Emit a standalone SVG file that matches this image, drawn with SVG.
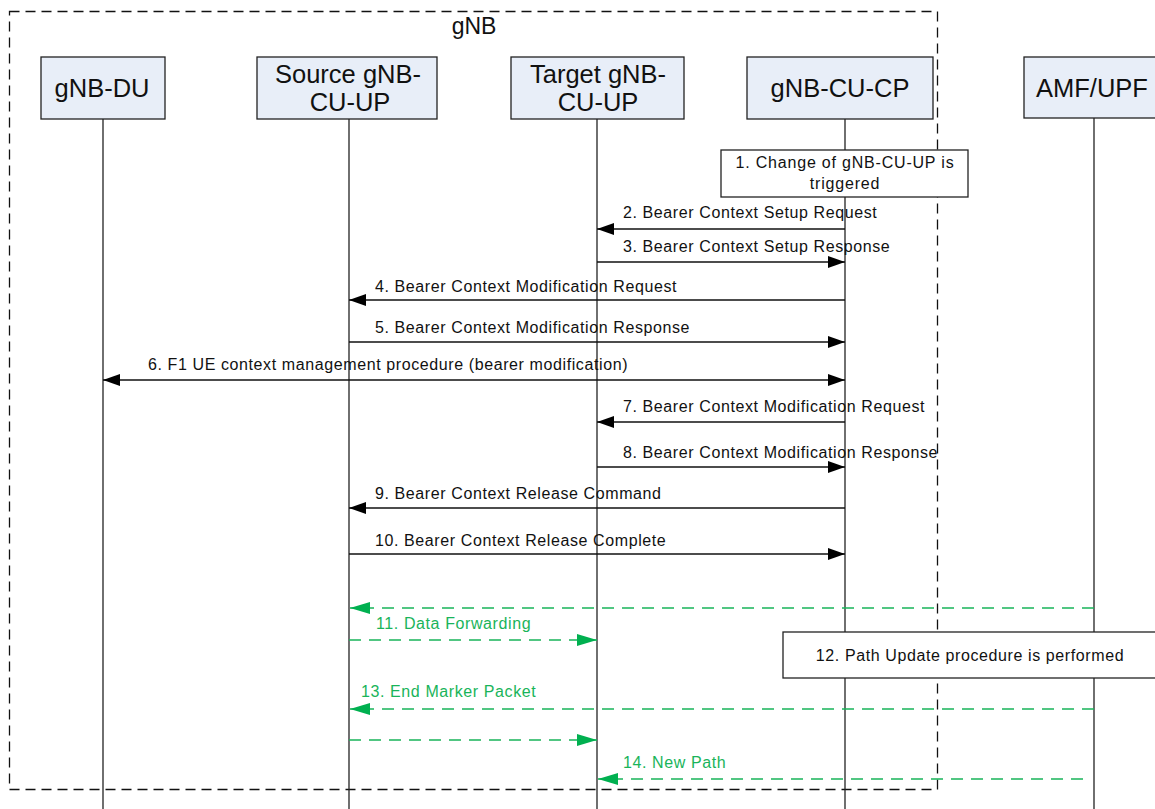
<svg xmlns="http://www.w3.org/2000/svg" width="1155" height="809" viewBox="0 0 1155 809">
<style>
.box{fill:#E8EEF8;stroke:#222;stroke-width:1.3}
.note{fill:#fff;stroke:#222;stroke-width:1.3}
.life{stroke:#222;stroke-width:1.3;fill:none}
.lbl{font-family:"Liberation Sans",Arial,sans-serif;font-size:25.5px;fill:#111;text-anchor:middle}
.msg{font-family:"Liberation Sans",Arial,sans-serif;font-size:16px;fill:#111;letter-spacing:0.6px}
.gmsg{font-family:"Liberation Sans",Arial,sans-serif;font-size:16px;fill:#19B45A;letter-spacing:0.6px}
.ntxt{font-family:"Liberation Sans",Arial,sans-serif;font-size:16px;fill:#111;text-anchor:middle;letter-spacing:0.8px}
.m{stroke:#111;stroke-width:1.3;fill:none}
.g{stroke:#19B45A;stroke-width:1.6;fill:none;stroke-dasharray:12 8}
</style>
<defs>
<marker id="ah" markerUnits="userSpaceOnUse" markerWidth="18" markerHeight="14" refX="17" refY="7" orient="auto-start-reverse"><path d="M0,1 L17,7 L0,13 Z" fill="#000"/></marker>
<marker id="gh" markerUnits="userSpaceOnUse" markerWidth="21" markerHeight="14" refX="20" refY="7" orient="auto-start-reverse"><path d="M0,1 L20,7 L0,13 Z" fill="#00B050"/></marker>
</defs>
<rect x="0" y="0" width="1155" height="809" fill="#fff"/>
<g id="gNB-container">
<rect x="9.5" y="11.5" width="928" height="778" fill="none" stroke="#111" stroke-width="1.3" stroke-dasharray="10 6"/>
<text x="474" y="34" class="lbl" style="font-size:23px">gNB</text>
</g>
<g id="lifelines">
<line class="life" x1="103" y1="119" x2="103" y2="809"/>
<line class="life" x1="349" y1="119" x2="349" y2="809"/>
<line class="life" x1="597" y1="119" x2="597" y2="809"/>
<line class="life" x1="845" y1="119" x2="845" y2="809"/>
<line class="life" x1="1094" y1="118" x2="1094" y2="809"/>
</g>
<g id="node-gnb-du">
<rect class="box" x="41" y="57" width="124" height="62"/>
<text class="lbl" x="102" y="97">gNB-DU</text>
</g>
<g id="node-source">
<rect class="box" x="257" y="57" width="180" height="62"/>
<text class="lbl" x="348" y="83">Source gNB-</text>
<text class="lbl" x="350" y="111">CU-UP</text>
</g>
<g id="node-target">
<rect class="box" x="511" y="57" width="173" height="62"/>
<text class="lbl" x="598" y="83">Target gNB-</text>
<text class="lbl" x="598" y="111">CU-UP</text>
</g>
<g id="node-cucp">
<rect class="box" x="747" y="57" width="186" height="62"/>
<text class="lbl" x="840" y="97">gNB-CU-CP</text>
</g>
<g id="node-amf">
<rect class="box" x="1024" y="57" width="140" height="61"/>
<text class="lbl" x="1092" y="97">AMF/UPF</text>
</g>
<g id="note-1">
<rect class="note" x="721" y="150" width="247" height="47"/>
<text class="ntxt" x="845" y="168">1. Change of gNB-CU-UP is</text>
<text class="ntxt" x="845" y="189">triggered</text>
</g>
<g id="connectors">
<line class="m" x1="845" y1="229" x2="597" y2="229" marker-end="url(#ah)"/>
<line class="m" x1="597" y1="262" x2="845" y2="262" marker-end="url(#ah)"/>
<line class="m" x1="845" y1="300" x2="349" y2="300" marker-end="url(#ah)"/>
<line class="m" x1="349" y1="342" x2="845" y2="342" marker-end="url(#ah)"/>
<line class="m" x1="103" y1="380" x2="845" y2="380" marker-start="url(#ah)" marker-end="url(#ah)"/>
<line class="m" x1="845" y1="422" x2="597" y2="422" marker-end="url(#ah)"/>
<line class="m" x1="597" y1="467" x2="845" y2="467" marker-end="url(#ah)"/>
<line class="m" x1="845" y1="508" x2="349" y2="508" marker-end="url(#ah)"/>
<line class="m" x1="349" y1="554" x2="845" y2="554" marker-end="url(#ah)"/>
<line class="g" x1="1094" y1="608" x2="350" y2="608" marker-end="url(#gh)"/>
<line class="g" x1="349" y1="640" x2="597" y2="640" marker-end="url(#gh)"/>
<line class="g" x1="1094" y1="709" x2="350" y2="709" marker-end="url(#gh)"/>
<line class="g" x1="349" y1="740" x2="597" y2="740" marker-end="url(#gh)"/>
<line class="g" x1="1083" y1="779" x2="598" y2="779" marker-end="url(#gh)"/>
</g>
<g id="labels">
<text class="msg" x="623" y="218">2. Bearer Context Setup Request</text>
<text class="msg" x="623" y="252">3. Bearer Context Setup Response</text>
<text class="msg" x="375" y="292">4. Bearer Context Modification Request</text>
<text class="msg" x="375" y="333">5. Bearer Context Modification Response</text>
<text class="msg" x="148" y="370">6. F1 UE context management procedure (bearer modification)</text>
<text class="msg" x="623" y="412">7. Bearer Context Modification Request</text>
<text class="msg" x="623" y="458">8. Bearer Context Modification Response</text>
<text class="msg" x="375" y="499">9. Bearer Context Release Command</text>
<text class="msg" x="375" y="546">10. Bearer Context Release Complete</text>
<text class="gmsg" x="376" y="629">11. Data Forwarding</text>
<text class="gmsg" x="361" y="697">13. End Marker Packet</text>
<text class="gmsg" x="623" y="768">14. New Path</text>
</g>
<g id="note-12">
<rect class="note" x="783" y="632" width="376" height="46"/>
<text class="ntxt" x="970" y="661" style="letter-spacing:0.6px">12. Path Update procedure is performed</text>
</g>
</svg>
